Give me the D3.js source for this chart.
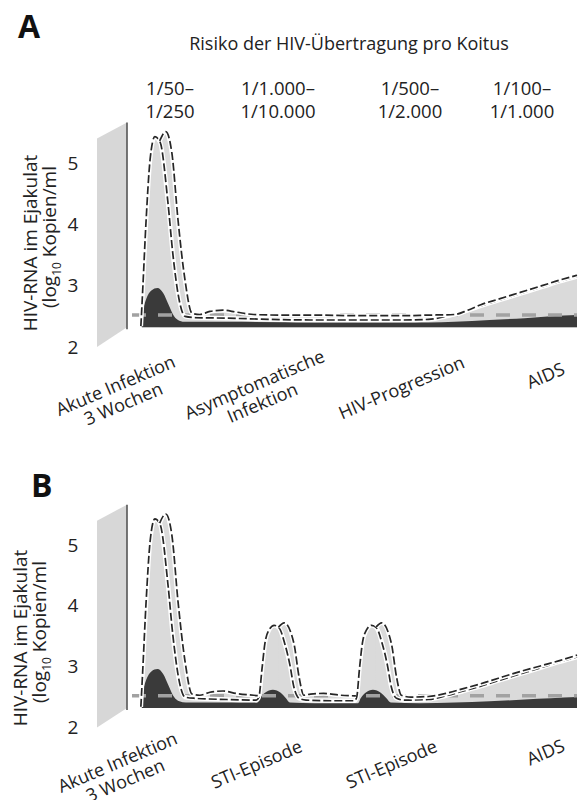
<!DOCTYPE html>
<html>
<head>
<meta charset="utf-8">
<script src="https://cdn.jsdelivr.net/npm/d3@7"></script>
<style>
  body { margin: 0; background: #fff; }
  svg { display: block; font-family: "Open Sans", sans-serif; }
</style>
</head>
<body>
<div id="chart"></div>
<script>
// ---- data ----
var yTicks = [2, 3, 4, 5];
var riskTitle = "Risiko der HIV-Übertragung pro Koitus";
var riskTop = ["1/50–", "1/1.000–", "1/500–", "1/100–"];
var riskBottom = ["1/250", "1/10.000", "1/2.000", "1/1.000"];
var phasesA = [["Akute Infektion", "3 Wochen"], ["Asymptomatische", "Infektion"], ["HIV-Progression"], ["AIDS"]];
var phasesB = [["Akute Infektion", "3 Wochen"], ["STI-Episode"], ["STI-Episode"], ["AIDS"]];
var baseLevel = 2.32;   // floor of the shaded areas (log10)
var refLevel = 2.52;    // grey dashed reference line (log10)

// [time, log10 copies/ml]; null = gap in the line
var upperA1 = [[0.2,2.34],[0.6,2.9],[1.4,4.07],[2.3,5.05],[3.4,5.43],[4.6,5.34],[6.4,4.35],[7.5,3.53],[9.1,2.72],[10.3,2.5],
  [12.6,2.48],[20,2.47],[30,2.45],[40,2.44],[50,2.44],[60,2.44],[66,2.45],[70,2.5],[74,2.58],[78,2.67],[82,2.76],
  [87,2.87],[92,2.98],[96,3.07],[100,3.15]];
var upperA2 = [[4.5,5.36],[5.9,5.51],[7.3,5.16],[8.7,4.07],[10.3,3.09],[11.9,2.55],[13.7,2.53],[16,2.58],[19,2.6],
  [22,2.57],[26,2.53],[32,2.52],[40,2.52],[50,2.51],[60,2.51],[66,2.52],[72,2.53],[75,2.6],[78,2.69],[82,2.78],
  [87,2.89],[92,3.0],[96,3.09],[100,3.17]];
var darkA = [[0.45,2.55],[1.4,2.78],[2.6,2.92],[4.0,2.96],[5.3,2.88],[6.6,2.68],[7.8,2.5],[9.0,2.43],[10.5,2.41],
  [20,2.41],[40,2.4],[60,2.4],[66,2.4],[72,2.41],[80,2.44],[88,2.47],[94,2.5],[100,2.52]];

var upperB1 = [[0.2,2.34],[0.6,2.9],[1.4,4.07],[2.3,5.05],[3.4,5.43],[4.6,5.34],[6.4,4.35],[7.5,3.53],[9.1,2.72],[10.3,2.5],
  [12.6,2.48],[20,2.46],[26.6,2.45],[27.2,2.5],[27.9,2.95],[28.6,3.39],[29.5,3.6],[30.7,3.68],[31.8,3.64],[33.2,3.36],
  [34.3,3.03],[35.2,2.67],[36.4,2.48],[38,2.45],[44,2.44],[49.1,2.44],[49.6,2.5],[50.2,2.95],[50.9,3.39],[51.8,3.6],
  [53,3.68],[54.1,3.64],[55.5,3.36],[56.6,3.03],[57.5,2.67],[58.7,2.48],[60.5,2.45],[66,2.46],[70,2.52],[74,2.6],
  [78,2.68],[82,2.77],[87,2.88],[92,2.99],[96,3.08],[100,3.16]];
var upperB2 = [[4.5,5.36],[5.9,5.51],[7.3,5.16],[8.7,4.07],[10.3,3.09],[11.9,2.55],[13.7,2.53],[16,2.58],[19,2.6],
  [22,2.56],[26,2.53],[27.3,2.52],[28,null],
  [31.7,3.65],[33.0,3.72],[35.2,3.39],[36.4,2.83],[37.5,2.53],[39,2.55],[42,2.56],[46,2.53],[49.4,2.52],[50,null],
  [54.0,3.65],[55.3,3.72],[57.5,3.39],[58.7,2.83],[59.8,2.53],[62,2.5],[66,2.51],[70,2.56],[74,2.64],[78,2.72],
  [82,2.81],[87,2.92],[92,3.02],[96,3.1],[100,3.19]];
var darkB = [[0.45,2.55],[1.4,2.78],[2.6,2.92],[4.0,2.96],[5.3,2.88],[6.6,2.68],[7.8,2.5],[9.0,2.43],[10.5,2.41],
  [20,2.41],[26.8,2.41],[27.4,2.48],[28.6,2.57],[30.4,2.62],[32.2,2.57],[33.4,2.48],[34.3,2.41],[40,2.4],[49.9,2.4],
  [50.5,2.48],[51.6,2.57],[53.3,2.62],[55.1,2.57],[56.4,2.48],[57.4,2.41],[64,2.4],[72,2.41],[80,2.43],[88,2.46],
  [94,2.48],[100,2.5]];

// ---- layout ----
var W = 583, H = 800;
var svg = d3.select("#chart").append("svg").attr("width", W).attr("height", H);

// time axis (arbitrary units) shared by both panels
var x = d3.scaleLinear().domain([0, 100]).range([140, 577]);

// risk header
svg.append("text").attr("x", 349).attr("y", 50).attr("text-anchor", "middle")
  .style("font-size", "18px").attr("fill", "#222").text(riskTitle);
var riskX = [170, 278, 410, 522];
svg.selectAll(".riskTop").data(riskTop).join("text")
  .attr("x", function(d, i) { return riskX[i]; }).attr("y", 95)
  .attr("text-anchor", "middle").style("font-size", "18.5px").attr("fill", "#222").text(function(d) { return d; });
svg.selectAll(".riskBottom").data(riskBottom).join("text")
  .attr("x", function(d, i) { return riskX[i]; }).attr("y", 118)
  .attr("text-anchor", "middle").style("font-size", "18.5px").attr("fill", "#222").text(function(d) { return d; });

function drawPanel(p) {
  var y = d3.scaleLinear().domain([2, 5]).range([p.y2, p.y5]);
  var g = svg.append("g");

  // panel letter
  g.append("text").attr("x", p.letterX).attr("y", p.letterY)
    .style("font-size", "32px").style("font-weight", "bold").attr("fill", "#111").text(p.letter);

  // grey "wall" on the left
  var right = x(0) - 13, left = right - 30;
  g.append("path")
    .attr("d", d3.line()([[left, y(5.4)], [right, y(5.4) - 16], [right, y(baseLevel)], [left, y(2)]]) + "Z")
    .attr("fill", "#d7d7d7");
  g.append("line").attr("x1", right).attr("x2", right)
    .attr("y1", y(5.4) - 16).attr("y2", y(baseLevel) + 2)
    .attr("stroke", "#555").attr("stroke-width", 1.6);

  var area = d3.area()
    .defined(function(d) { return d[1] != null; })
    .x(function(d) { return x(d[0]); })
    .y0(y(baseLevel))
    .y1(function(d) { return y(d[1]); })
    .curve(d3.curveMonotoneX);
  var line = d3.line()
    .defined(function(d) { return d[1] != null; })
    .x(function(d) { return x(d[0]); })
    .y(function(d) { return y(d[1]); })
    .curve(d3.curveMonotoneX);

  [p.c1, p.c2].forEach(function(s) {
    g.append("path").attr("d", area(s)).attr("fill", "#dadada");
  });
  g.append("path").attr("d", area(p.dark)).attr("fill", "#3a3a3a");

  // reference level
  g.append("line").attr("x1", x(0) - 8).attr("x2", x(100))
    .attr("y1", y(refLevel)).attr("y2", y(refLevel))
    .attr("stroke", "#a2a2a2").attr("stroke-width", 3.5).attr("stroke-dasharray", "14,12");

  // the two dashed curves with white halo
  [p.c1, p.c2].forEach(function(s) {
    g.append("path").attr("d", line(s)).attr("fill", "none")
      .attr("stroke", "#fff").attr("stroke-width", 4.5);
    g.append("path").attr("d", line(s)).attr("fill", "none")
      .attr("stroke", "#262626").attr("stroke-width", 1.7).attr("stroke-dasharray", "8,3");
  });

  // y tick labels
  g.selectAll(".ytick").data(yTicks).join("text")
    .attr("x", 73).attr("y", function(d) { return y(d); }).attr("dy", "0.35em")
    .attr("text-anchor", "middle").style("font-size", "19px").attr("fill", "#222")
    .text(function(d) { return d; });

  // y axis title
  g.append("text").attr("transform", "translate(" + p.labX + "," + p.labY + ") rotate(-90)")
    .attr("text-anchor", "middle").style("font-size", "19px").attr("fill", "#222")
    .text("HIV-RNA im Ejakulat");
  var t2 = g.append("text").attr("transform", "translate(" + (p.labX + 19) + "," + (p.labY - 6) + ") rotate(-90)")
    .attr("text-anchor", "middle").style("font-size", "19px").attr("fill", "#222");
  t2.append("tspan").text("(log");
  t2.append("tspan").attr("dy", 5).style("font-size", "12px").text("10");
  t2.append("tspan").attr("dy", -5).text(" Kopien/ml");

  // phase labels under the curves
  var base = y(baseLevel);
  p.phases.forEach(function(lines, i) {
    var t = g.append("text")
      .attr("transform", "translate(" + p.phaseX[i] + "," + (base + p.phaseDy[i]) + ") rotate(-23)")
      .attr("text-anchor", "middle").style("font-size", "18px").attr("fill", "#222");
    lines.forEach(function(l, j) {
      t.append("tspan").attr("x", 0).attr("dy", j === 0 ? 0 : "1.1em").text(l);
    });
  });
}

drawPanel({
  letter: "A", letterX: 18, letterY: 38,
  y2: 347, y5: 163,
  c1: upperA1, c2: upperA2, dark: darkA,
  labX: 37, labY: 243,
  phases: phasesA, phaseX: [118, 257, 404, 548], phaseDy: [64, 63, 66, 54]
});
drawPanel({
  letter: "B", letterX: 31, letterY: 497,
  y2: 727.5, y5: 545,
  c1: upperB1, c2: upperB2, dark: darkB,
  labX: 27, labY: 638,
  phases: phasesB, phaseX: [120, 259, 394, 548], phaseDy: [60, 62, 62, 50]
});
</script>
</body>
</html>
